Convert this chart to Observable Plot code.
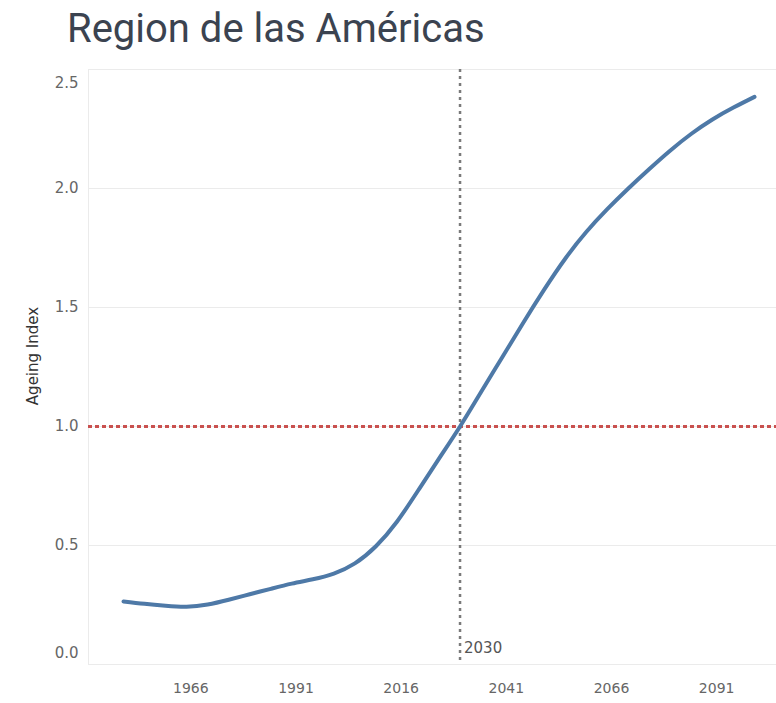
<!DOCTYPE html>
<html>
<head>
<meta charset="utf-8">
<script src="https://cdn.jsdelivr.net/npm/d3@7"></script>
<script src="https://cdn.jsdelivr.net/npm/@observablehq/plot@0.6"></script>
<style>
  html, body { margin: 0; padding: 0; background: #fff; }
  #title { height: 62px; box-sizing: border-box; padding: 9px 0 0 67px; font-family: Roboto, "Liberation Sans", sans-serif; font-size: 40px; line-height: 40px; color: #3b4350; white-space: nowrap; }
  #chart svg { display: block; }
</style>
</head>
<body>
<div id="title">Region de las Américas</div>
<div id="chart"></div>
<script>
const years = [1950,1955,1960,1965,1970,1975,1980,1985,1990,1995,2000,2005,2010,2015,2020,2025,2030,2035,2040,2045,2050,2055,2060,2065,2070,2075,2080,2085,2090,2095,2100];
const ageingIndex = [0.265,0.255,0.247,0.243,0.252,0.272,0.295,0.318,0.340,0.358,0.382,0.425,0.497,0.600,0.730,0.865,1.000,1.145,1.290,1.435,1.575,1.705,1.817,1.913,2.000,2.082,2.160,2.230,2.290,2.340,2.385];
const yTicks = [0, 0.5, 1, 1.5, 2, 2.5];
const xTicks = [1966, 1991, 2016, 2041, 2066, 2091];
const markerYear = [2030];
const threshold = [1];
const yLabel = "Ageing Index";

const data = years.map((year, i) => ({year, value: ageingIndex[i]}));
const font = "DejaVu Sans, sans-serif";

const chart = Plot.plot({
  width: 776,
  height: 641,
  marginTop: 7,
  marginBottom: 39,
  marginLeft: 88,
  marginRight: 0,
  style: {fontFamily: font, background: "#fff"},
  x: {domain: [1950, 2100], range: [123, 754]},
  y: {domain: [0, 2.5]},
  marks: [
    Plot.gridY(yTicks, {stroke: "#ebebeb", strokeOpacity: 1, strokeWidth: 1}),
    Plot.frame({anchor: "left", stroke: "#ebebeb"}),
    Plot.axisY(yTicks.slice(1, -1), {tickSize: 0, tickPadding: 10, fontSize: 15, fill: "#666", label: null, tickFormat: d => d.toFixed(1)}),
    Plot.axisY(yTicks.slice(-1), {tickSize: 0, tickPadding: 10, fontSize: 15, fill: "#666", label: null, dy: 14, tickFormat: d => d.toFixed(1)}),
    Plot.axisY(yTicks.slice(0, 1), {tickSize: 0, tickPadding: 10, fontSize: 15, fill: "#666", label: null, dy: -11, tickFormat: d => d.toFixed(1)}),
    Plot.axisX(xTicks, {tickSize: 0, tickPadding: 19, fontSize: 14, fill: "#666", label: null, tickFormat: d => String(d)}),
    Plot.text([yLabel], {frameAnchor: "left", textAnchor: "middle", dx: -55, dy: -11, rotate: -90, fontSize: 15, fill: "#333", text: d => d}),
    Plot.ruleY(threshold, {stroke: "#c9514f", strokeWidth: 2.8, strokeDasharray: "4,3"}),
    Plot.ruleX(markerYear, {stroke: "#7a7a7a", strokeWidth: 2.5, strokeDasharray: "3,4"}),
    Plot.text(markerYear, {x: d => d, frameAnchor: "bottom", textAnchor: "start", dx: 4, dy: -12, fontSize: 15, fill: "#555", text: d => String(d)}),
    Plot.line(data, {x: "year", y: "value", stroke: "#4e79a7", strokeWidth: 4, curve: "natural", strokeLinecap: "round"})
  ]
});
document.getElementById("chart").append(chart);
</script>
</body>
</html>
